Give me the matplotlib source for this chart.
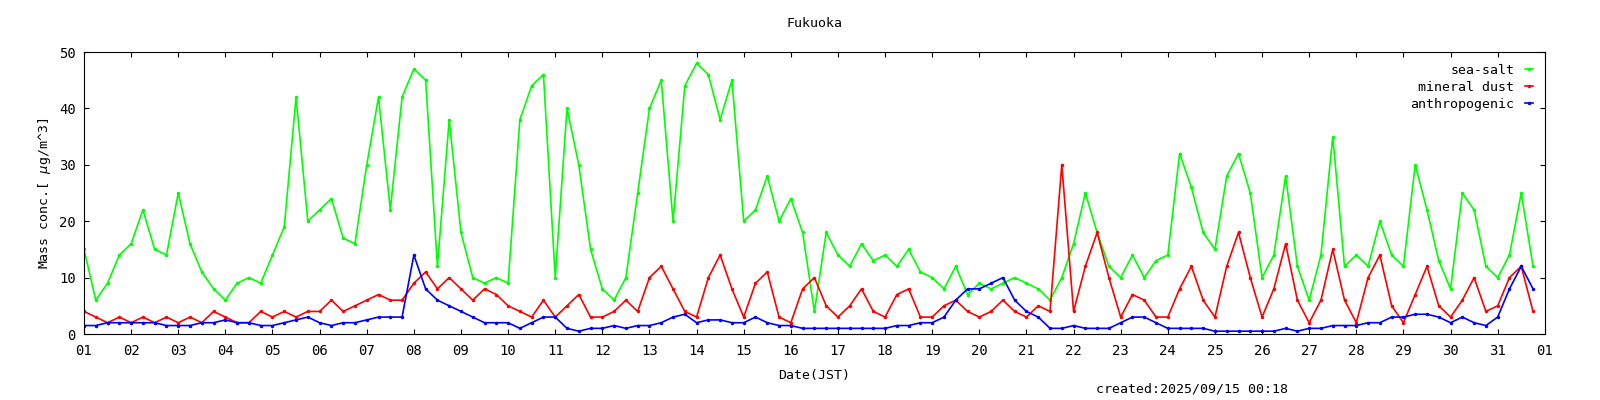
import numpy as np
import matplotlib.pyplot as plt

plt.rcParams['font.family'] = 'DejaVu Sans Mono'
plt.rcParams['font.size'] = 9.5

# 6-hourly values (00, 06, 12, 18 JST) for days 01..31
sea_salt = [
    15, 6, 9, 14,  16, 22, 15, 14,  25, 16, 11, 8,  6, 9, 10, 9,
    14, 19, 42, 20,  22, 24, 17, 16,  30, 42, 22, 42,  47, 45, 12, 38,
    18, 10, 9, 10,  9, 38, 44, 46,  10, 40, 30, 15,  8, 6, 10, 25,
    40, 45, 20, 44,  48, 46, 38, 45,  20, 22, 28, 20,  24, 18, 4, 18,
    14, 12, 16, 13,  14, 12, 15, 11,  10, 8, 12, 7,  9, 8, 9, 10,
    9, 8, 6, 10,  16, 25, 18, 12,  10, 14, 10, 13,  14, 32, 26, 18,
    15, 28, 32, 25,  10, 14, 28, 12,  6, 14, 35, 12,  14, 12, 20, 14,
    12, 30, 22, 13,  8, 25, 22, 12,  10, 14, 25, 12,
]
mineral_dust = [
    4, 3, 2, 3,  2, 3, 2, 3,  2, 3, 2, 4,  3, 2, 2, 4,
    3, 4, 3, 4,  4, 6, 4, 5,  6, 7, 6, 6,  9, 11, 8, 10,
    8, 6, 8, 7,  5, 4, 3, 6,  3, 5, 7, 3,  3, 4, 6, 4,
    10, 12, 8, 4,  3, 10, 14, 8,  3, 9, 11, 3,  2, 8, 10, 5,
    3, 5, 8, 4,  3, 7, 8, 3,  3, 5, 6, 4,  3, 4, 6, 4,
    3, 5, 4, 30,  4, 12, 18, 10,  3, 7, 6, 3,  3, 8, 12, 6,
    3, 12, 18, 10,  3, 8, 16, 6,  2, 6, 15, 6,  2, 10, 14, 5,
    2, 7, 12, 5,  3, 6, 10, 4,  5, 10, 12, 4,
]
anthropogenic = [
    1.5, 1.5, 2, 2,  2, 2, 2, 1.5,  1.5, 1.5, 2, 2,  2.5, 2, 2, 1.5,
    1.5, 2, 2.5, 3,  2, 1.5, 2, 2,  2.5, 3, 3, 3,  14, 8, 6, 5,
    4, 3, 2, 2,  2, 1, 2, 3,  3, 1, 0.5, 1,  1, 1.5, 1, 1.5,
    1.5, 2, 3, 3.5,  2, 2.5, 2.5, 2,  2, 3, 2, 1.5,  1.5, 1, 1, 1,
    1, 1, 1, 1,  1, 1.5, 1.5, 2,  2, 3, 6, 8,  8, 9, 10, 6,
    4, 3, 1, 1,  1.5, 1, 1, 1,  2, 3, 3, 2,  1, 1, 1, 1,
    0.5, 0.5, 0.5, 0.5,  0.5, 0.5, 1, 0.5,  1, 1, 1.5, 1.5,  1.5, 2, 2, 3,
    3, 3.5, 3.5, 3,  2, 3, 2, 1.5,  3, 8, 12, 8,
]
day_labels = ['%02d' % d for d in range(1, 32)] + ['01']

t = np.arange(len(sea_salt)) * 0.25

fig = plt.figure(figsize=(16, 4), dpi=100)
ax = fig.add_axes([0.0525, 0.165, 0.913, 0.705])

series = [(sea_salt, '#00ff00', 'sea-salt'),
          (mineral_dust, '#ff0000', 'mineral dust'),
          (anthropogenic, '#0000ff', 'anthropogenic')]
for vals, col, lab in series:
    ax.plot(t, vals, color=col, lw=1.2, marker='.', ms=3, label=lab)

ax.set_xlim(0, 31)
ax.set_ylim(0, 50)
ax.set_xticks(np.arange(32))
ax.set_xticklabels(day_labels)
ax.set_yticks(range(0, 51, 10))
ax.tick_params(direction='in', top=True, right=True, labelsize=10)
ax.tick_params(axis='x', pad=7)
ax.tick_params(axis='y', pad=6)
ax.set_title('Fukuoka', fontsize=9.5, pad=18)
ax.set_xlabel('Date(JST)', fontsize=9.5, labelpad=8)
ax.set_ylabel('Mass conc.[ $\\mu$g/m^3]', fontsize=9.5)
ax.legend(loc='upper right', frameon=False, markerfirst=False,
          handlelength=0.6, fontsize=9.5, labelspacing=0.3)
fig.text(0.685, 0.02, 'created:2025/09/15 00:18', fontsize=9.5)
fig.savefig('out.png')
